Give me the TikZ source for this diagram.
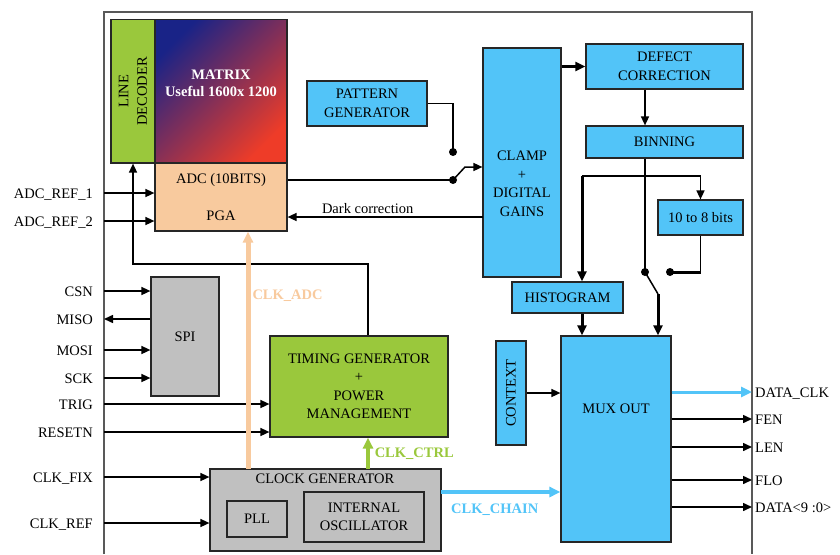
\documentclass[tikz,border=0pt]{standalone}
\usepackage{fontspec}
\setmainfont{Liberation Serif}
\usetikzlibrary{arrows.meta}

\definecolor{skyblue}{RGB}{82,196,248}
\definecolor{leafgreen}{RGB}{154,200,60}
\definecolor{peach}{RGB}{248,202,158}
\definecolor{boxgray}{RGB}{192,192,192}
\definecolor{matblue}{RGB}{25,35,135}
\definecolor{matpurple}{RGB}{118,38,142}
\definecolor{matred}{RGB}{238,60,40}

\begin{document}
\begin{tikzpicture}[x=1pt, y=-1pt,
    font=\fontsize{14.5}{18.5}\selectfont,
    box/.style={draw=black!85, line width=1.2pt, inner sep=0pt, align=center},
    bluebox/.style={box, fill=skyblue},
    greenbox/.style={box, fill=leafgreen},
    graybox/.style={box, fill=boxgray},
    txt/.style={inner sep=0pt, align=center},
    sig/.style={anchor=east, inner xsep=11pt, inner ysep=0pt, text height=10pt, text depth=0pt},
    sigout/.style={anchor=west, inner xsep=3pt, inner ysep=0pt, text height=10pt, text depth=0pt},
    arr/.style={line width=1.5pt, -{Triangle[length=9pt,width=8pt]}},
    fatarr/.style={line width=3pt, -{Triangle[length=10pt,width=9pt]}},
    clkarr/.style={line width=#1, -{Triangle[length=11pt,width=10pt]}},
    clklbl/.style={font=\fontsize{14.5}{18.5}\selectfont\bfseries, inner sep=2pt},
    dot/.style={circle, fill, inner sep=0pt, minimum size=8pt},
]
\useasboundingbox (0,0) rectangle (840,554);

% chip outline
\draw[black!65, line width=1.2pt] (104,554) -- (104,12) -- (752,12) -- (752,554);

% sensor array
\node[greenbox, minimum width=44pt, minimum height=143.5pt] (ld) at (133,91.25) {};
\node[txt, rotate=90] (ldt) at (133,91.25) {LINE\\DECODER};
\node[box, minimum width=132pt, minimum height=143.5pt,
      top color=matblue, middle color=matpurple, bottom color=matred,
      shading angle=45] (mat) at (221,91.25) {};
\node[txt, text=white, font=\fontsize{14.5}{17}\selectfont\bfseries] (matt) at (221,83) {MATRIX\\Useful 1600x 1200};
\node[box, fill=peach, minimum width=132pt, minimum height=68pt] (adc) at (221,197) {ADC (10BITS)\\[18pt]PGA};

% digital chain
\node[bluebox, minimum width=120pt, minimum height=45pt] (pat) at (367,103.5) {PATTERN\\GENERATOR};
\node[bluebox, minimum width=78pt, minimum height=229pt] (clamp) at (522,162.5) {};
\node[txt] (clampt) at (522,184) {CLAMP\\+\\DIGITAL\\GAINS};
\node[bluebox, minimum width=157pt, minimum height=45pt] (defect) at (664.5,66.5) {DEFECT\\CORRECTION};
\node[bluebox, minimum width=157pt, minimum height=32pt] (bin) at (664.5,142) {BINNING};
\node[bluebox, minimum width=85pt, minimum height=35pt] (tenb) at (700.5,217.5) {10 to 8 bits};
\node[bluebox, minimum width=111pt, minimum height=31pt] (hist) at (567.5,297.5) {HISTOGRAM};
\node[bluebox, minimum width=110pt, minimum height=206pt] (mux) at (616,439) {};
\node[txt] (muxt) at (616,409) {MUX OUT};
\node[bluebox, minimum width=104pt, minimum height=30pt, rotate=90] (ctx) at (511,393) {CONTEXT};

% control blocks
\node[graybox, minimum width=68pt, minimum height=119pt] (spi) at (185,336.5) {SPI};
\node[greenbox, minimum width=178pt, minimum height=101pt] (tg) at (359,386.5) {TIMING GENERATOR\\+\\POWER\\MANAGEMENT};
\node[graybox, minimum width=231pt, minimum height=82pt] (clk) at (325.5,510) {};
\node[txt] (clkt) at (325,479) {CLOCK GENERATOR};
\node[graybox, minimum width=60pt, minimum height=36pt] (pll) at (257,519) {PLL};
\node[graybox, minimum width=120pt, minimum height=50pt] (osc) at (364,517) {INTERNAL\\OSCILLATOR};

% pins on the left
\node[sig] (aref1) at (104,193) {ADC\_REF\_1};
\node[sig] (aref2) at (104,221) {ADC\_REF\_2};
\node[sig] (csn) at (104,291) {CSN};
\node[sig] (miso) at (104,319) {MISO};
\node[sig] (mosi) at (104,350) {MOSI};
\node[sig] (sck) at (104,378) {SCK};
\node[sig] (trig) at (104,404) {TRIG};
\node[sig] (rst) at (104,432) {RESETN};
\node[sig] (cfix) at (104,477) {CLK\_FIX};
\node[sig] (cref) at (104,523) {CLK\_REF};

% pins on the right
\node[sigout] (dclk) at (752,392) {DATA\_CLK};
\node[sigout] (fen) at (752,419) {FEN};
\node[sigout] (len) at (752,447) {LEN};
\node[sigout] (flo) at (752,480) {FLO};
\node[sigout] (data) at (752,507) {DATA<9 :0>};

% switch points and bends
\coordinate (sw1a) at (453,180);
\coordinate (sw1b) at (453,152);
\coordinate (sw1c) at (465,167);
\coordinate (dark) at (483,217);
\coordinate (bx) at (645,176);
\coordinate (hx) at (582,176);
\coordinate (sw2a) at (645,272);
\coordinate (sw2b) at (670,272);
\coordinate (sw2c) at (658,294);
\coordinate (fb) at (368,264);
\coordinate (cadc) at (248,469);
\coordinate (cctl) at (368,469);
\coordinate (chain) at (441,492);

% inputs
\draw[arr] (aref1) -- (aref1 -| adc.west);
\draw[arr] (aref2) -- (aref2 -| adc.west);
\draw[arr] (csn) -- (csn -| spi.west);
\draw[arr] (miso -| spi.west) -- (miso);
\draw[arr] (mosi) -- (mosi -| spi.west);
\draw[arr] (sck) -- (sck -| spi.west);
\draw[arr] (trig) -- (trig -| tg.west);
\draw[arr] (rst) -- (rst -| tg.west);
\draw[arr] (cfix) -- (cfix -| clk.west);
\draw[arr] (cref) -- (cref -| clk.west);

% line decoder control
\draw[arr] (tg.north -| fb) -- (fb) -| (ld.south);

% pixel data to clamp
\draw[line width=1.5pt] (adc.east |- sw1a) -- (sw1a);
\draw[line width=1.5pt] (pat.east) -| (sw1b);
\draw[arr] (sw1a) -- (sw1c) -- (sw1c -| clamp.west);
\node[dot] (d1) at (sw1a) {};
\node[dot] (d2) at (sw1b) {};
\draw[arr] (dark) -- (dark -| adc.east) node[pos=0.59, above, inner sep=3pt] {Dark correction};

% processing chain
\draw[fatarr] (clamp.east |- defect) -- (defect);
\draw[arr] (defect.south -| bx) -- (bin.north -| bx);
\draw[line width=1.5pt] (bin.south -| bx) -- (sw2a);
\draw[arr] (hx) -| (tenb.north);
\draw[fatarr] (hx) -- (hx |- hist.north);
\draw[fatarr] (hist.south -| hx) -- (mux.north -| hx);
\draw[line width=1.5pt] (tenb.south) -- (tenb.south |- sw2b);
\draw[line width=3pt] (tenb.south |- sw2b) -- (sw2b);
\draw[line width=1.5pt] (sw2a) -- (sw2c);
\draw[fatarr] (sw2c) -- (sw2c |- mux.north);
\node[dot] (d3) at (sw2a) {};
\node[dot] (d4) at (sw2b) {};
\draw[arr] (ctx) -- (ctx -| mux.west);

% outputs
\draw[clkarr=3pt, skyblue] (mux.east |- dclk) -- (dclk);
\draw[arr] (mux.east |- fen) -- (fen);
\draw[arr] (mux.east |- len) -- (len);
\draw[arr] (mux.east |- flo) -- (flo);
\draw[arr] (mux.east |- data) -- (data);

% clocks
\draw[clkarr=5pt, peach] (cadc) -- (cadc |- adc.south)
    node[pos=0.73, right, clklbl, text=peach] {CLK\_ADC};
\draw[clkarr=3.5pt, leafgreen] (cctl) -- (cctl |- tg.south)
    node[midway, right, clklbl, inner xsep=5pt, text=leafgreen] {CLK\_CTRL};
\draw[clkarr=3.5pt, skyblue] (chain) -- (chain -| mux.west)
    node[pos=0.45, below, clklbl, inner sep=10pt, text=skyblue] {CLK\_CHAIN};
\end{tikzpicture}
\end{document}
